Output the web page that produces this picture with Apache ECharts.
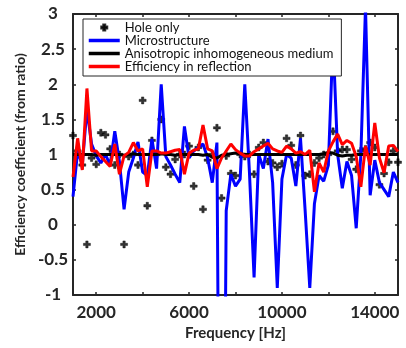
<!DOCTYPE html>
<html>
<head>
<meta charset="utf-8">
<script src="https://cdn.jsdelivr.net/npm/echarts@6/dist/echarts.min.js"></script>
<style>
  html, body { margin: 0; padding: 0; background: #ffffff; }
  #chart { width: 406px; height: 348px; }
</style>
</head>
<body>
<div id="chart"></div>
<script>
// Frequencies of the measurement points [Hz]
const frequency = [
  1000, 1200, 1400, 1600, 1800, 2000, 2200, 2400, 2600, 2800,
  3000, 3200, 3400, 3600, 3800, 4000, 4200, 4400, 4600, 4800,
  5000, 5200, 5400, 5600, 5800, 6000, 6200, 6400, 6600, 6800,
  7000, 7200, 7400, 7600, 7800, 8000, 8200, 8400, 8600, 8800,
  9000, 9200, 9400, 9600, 9800, 10000, 10200, 10400, 10600, 10800,
  11000, 11200, 11400, 11600, 11800, 12000, 12200, 12400, 12600, 12800,
  13000, 13200, 13400, 13600, 13800, 14000, 14200, 14400, 14600, 14800,
  15000
];

// Efficiency coefficient of the hole alone
const holeOnly = [
  1.27, 1.05, 0.85, -0.28, 0.95, 0.86, 1.31, 1.28, 1.08, 0.85,
  1.00, -0.28, 0.97, 1.00, 0.85, 1.77, 0.27, 1.20, 1.00, 1.50,
  0.82, 0.72, 0.93, 1.00, 1.00, 1.12, 0.55, 1.10, 0.22, 0.92,
  1.00, 1.38, 0.38, 0.98, 0.73, 0.70, 1.00, 0.97, 1.00, 0.72,
  1.10, 1.17, 0.90, 0.88, 0.82, 0.87, 1.23, 1.13, 0.85, 1.27,
  0.70, 0.72, 0.88, 0.95, 1.00, 1.00, 1.33, 1.05, 1.07, 1.07,
  0.93, 0.79, 1.05, 1.08, 1.17, 1.10, 0.57, 0.73, 0.89, 1.05,
  0.89
];

// Microstructure model
const microstructure = [
  0.40, 1.05, 0.85, 1.65, 1.15, 0.98, 0.88, 1.00, 0.85, 1.33,
  0.90, 0.22, 0.75, 0.95, 1.18, 0.75, 0.70, 1.22, 0.80, 2.00,
  0.97, 0.85, 0.72, 0.60, 1.40, 0.95, 1.05, 1.10, 1.15, 0.95,
  0.60, 1.17, -9.00, 0.20, 0.72, 0.55, 0.65, 2.00, 0.75, -0.75,
  1.00, 0.80, 1.22, 0.60, -0.90, 0.65, 1.00, 0.95, 0.55, 1.23,
  0.20, -0.90, 0.30, 0.70, 0.62, 0.85, 2.65, 1.00, 0.52, 0.90,
  0.70, -0.05, 1.00, 3.10, 0.42, 0.92, 0.60, 0.50, 0.40, 0.75,
  0.60
];

// Anisotropic inhomogeneous medium model
const anisotropic = [
  1.00, 1.00, 1.00, 1.00, 1.00, 0.99, 1.00, 1.00, 1.00, 1.00,
  1.00, 0.99, 1.00, 1.01, 1.00, 1.00, 1.00, 1.00, 1.00, 1.01,
  1.00, 1.00, 0.99, 1.00, 1.00, 1.00, 1.00, 1.00, 0.99, 1.00,
  0.96, 0.95, 0.99, 1.00, 1.01, 1.02, 1.01, 1.00, 1.00, 1.00,
  1.00, 1.00, 1.00, 1.00, 1.00, 1.00, 1.00, 1.00, 1.00, 1.00,
  1.00, 1.00, 1.00, 1.00, 1.01, 1.03, 1.02, 0.99, 0.98, 0.99,
  0.99, 1.00, 1.00, 1.00, 1.00, 1.00, 1.00, 1.00, 1.00, 1.00,
  1.00
];

// Efficiency obtained in reflection
const reflection = [
  0.68, 1.23, 0.78, 1.94, 1.05, 1.05, 0.97, 0.90, 0.83, 1.15,
  0.72, 0.98, 1.03, 1.17, 1.05, 1.08, 0.54, 1.05, 1.05, 1.02,
  1.02, 1.04, 1.06, 1.07, 0.72, 1.02, 1.06, 1.08, 1.42, 1.08,
  1.05, 0.80, 0.95, 1.05, 1.15, 1.07, 1.02, 0.98, 0.98, 1.04,
  1.08, 1.12, 1.16, 1.08, 1.05, 1.03, 1.12, 1.08, 1.02, 1.04,
  1.00, 1.06, 0.47, 0.88, 0.75, 1.05, 1.18, 1.29, 1.14, 1.20,
  1.16, 0.97, 0.54, 1.12, 0.85, 1.45, 0.95, 0.74, 1.12, 1.13,
  1.04
];

// Axis ticks and labels
const xTicks = [2000, 4000, 6000, 8000, 10000, 12000, 14000];
const xLabels = [2000, 6000, 10000, 14000];
const yTicks = [-1, -0.5, 0, 0.5, 1, 1.5, 2, 2.5, 3];

const AXIS = '#262626';
const FONT = 'Lato';
// plus-shaped marker
const PLUS = 'path://M3,0h3v3h3v3h-3v3h-3v-3h-3v-3h3z';

const pairs = (ys) => frequency.map((f, i) => [f, ys[i]]);

const boxAxis = {
  axisLine: { show: true, onZero: false, lineStyle: { color: AXIS, width: 2 } },
  splitLine: { show: false }
};

const hiddenSymbol = { opacity: 0 };

const chart = echarts.init(document.getElementById('chart'), null, { renderer: 'canvas' });

chart.setOption({
  animation: false,
  backgroundColor: '#ffffff',
  grid: { left: 73, right: 8, top: 14, bottom: 53 },
  legend: {
    orient: 'vertical',
    left: 83,
    top: 19,
    padding: [2, 8, 3, 4],
    itemGap: 0,
    itemWidth: 31,
    itemHeight: 6,
    backgroundColor: '#ffffff',
    borderColor: AXIS,
    borderWidth: 1,
    borderRadius: 0,
    lineStyle: { width: 3.5 },
    textStyle: { fontFamily: FONT, fontSize: 13, color: '#111111', lineHeight: 12.7 },
    data: [
      { name: 'Hole only', icon: PLUS },
      { name: 'Microstructure', itemStyle: hiddenSymbol },
      { name: 'Anisotropic inhomogeneous medium', itemStyle: hiddenSymbol },
      { name: 'Efficiency in reflection', itemStyle: hiddenSymbol }
    ]
  },
  xAxis: [
    Object.assign({
      type: 'value', min: 1000, max: 15000, position: 'bottom',
      axisTick: { show: true, inside: true, length: 3, customValues: xTicks, lineStyle: { color: AXIS, width: 1.5 } },
      axisLabel: {
        customValues: xLabels, margin: 9, color: AXIS,
        fontFamily: FONT, fontSize: 17, fontWeight: 'bold',
        formatter: (v) => String(v)
      },
      name: 'Frequency [Hz]', nameLocation: 'middle', nameGap: 29,
      nameTextStyle: { fontFamily: FONT, fontSize: 15, fontWeight: 'bold', color: AXIS }
    }, boxAxis),
    Object.assign({
      type: 'value', min: 1000, max: 15000, position: 'top',
      axisTick: { show: true, inside: true, length: 3, customValues: xTicks, lineStyle: { color: AXIS, width: 1.5 } },
      axisLabel: { show: false }
    }, boxAxis)
  ],
  yAxis: [
    Object.assign({
      type: 'value', min: -1, max: 3, position: 'left',
      axisTick: { show: true, inside: true, length: 3, customValues: yTicks, lineStyle: { color: AXIS, width: 1.5 } },
      axisLabel: {
        customValues: yTicks, margin: 20, align: 'center', color: AXIS,
        fontFamily: FONT, fontSize: 17, fontWeight: 'bold',
        formatter: (v) => String(v)
      },
      name: 'Efficiency coefficient (from ratio)', nameLocation: 'middle', nameGap: 46,
      nameTextStyle: { fontFamily: FONT, fontSize: 14, fontWeight: 'bold', color: AXIS }
    }, boxAxis),
    Object.assign({
      type: 'value', min: -1, max: 3, position: 'right',
      axisTick: { show: true, inside: true, length: 3, customValues: yTicks, lineStyle: { color: AXIS, width: 1.5 } },
      axisLabel: { show: false }
    }, boxAxis)
  ],
  series: [
    {
      name: 'Hole only', type: 'scatter', data: pairs(holeOnly),
      symbol: PLUS, symbolSize: 7,
      itemStyle: { color: '#000000', borderColor: '#000000', borderWidth: 0.5 }, z: 2
    },
    {
      name: 'Microstructure', type: 'line', data: pairs(microstructure),
      symbol: 'none', showSymbol: false, lineStyle: { color: '#0000ff', width: 3 },
      itemStyle: { color: '#0000ff' }, z: 3
    },
    {
      name: 'Anisotropic inhomogeneous medium', type: 'line', data: pairs(anisotropic),
      symbol: 'none', showSymbol: false, lineStyle: { color: '#000000', width: 3 },
      itemStyle: { color: '#000000' }, z: 4
    },
    {
      name: 'Efficiency in reflection', type: 'line', data: pairs(reflection),
      symbol: 'none', showSymbol: false, lineStyle: { color: '#ff0000', width: 3 },
      itemStyle: { color: '#ff0000' }, z: 5
    }
  ]
});
</script>
</body>
</html>
